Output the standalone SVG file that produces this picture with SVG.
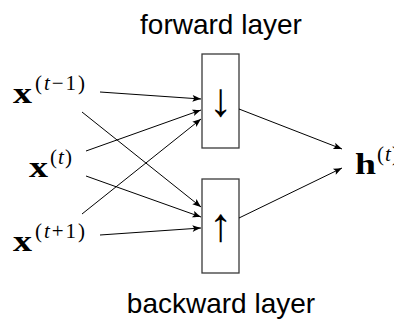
<svg xmlns="http://www.w3.org/2000/svg" width="394" height="322" viewBox="0 0 394 322">
<style>
.lbl{font-family:"Liberation Sans",Arial,sans-serif;font-size:28px;fill:#000}
.bx{font-family:"Liberation Serif","Times New Roman",serif;font-weight:bold;font-size:29px;fill:#000}
.sup{font-family:"Liberation Serif","Times New Roman",serif;font-size:21px;fill:#000}
.it{font-style:italic}
.box{fill:#fff;stroke:#3a3a3a;stroke-width:1.3}
.arr{font-family:"Liberation Serif",serif;font-size:47px;fill:#000}
.edge{stroke:#000;stroke-width:1;fill:none;marker-end:url(#ah)}
</style>
<defs>
<marker id="ah" markerUnits="userSpaceOnUse" markerWidth="12" markerHeight="10" viewBox="-10 -5 12 10" refX="0" refY="0" orient="auto">
<path d="M0,0 C-2.5,-0.9 -5.5,-2.1 -8.5,-3.3 L-6.8,0 L-8.5,3.3 C-5.5,2.1 -2.5,0.9 0,0 Z" fill="#000"/>
</marker>
</defs>
<rect width="394" height="322" fill="#fff"/>
<g id="title-forward"><text class="lbl" x="221" y="34" text-anchor="middle">forward layer</text></g>
<g id="title-backward"><text class="lbl" x="221" y="313" text-anchor="middle">backward layer</text></g>
<g id="x-tm1">
<text class="bx" x="13" y="103" textLength="19" lengthAdjust="spacingAndGlyphs">x</text>
<text class="sup" x="35" y="90" textLength="50" lengthAdjust="spacing">(<tspan class="it">t</tspan>−1)</text>
</g>
<g id="x-t">
<text class="bx" x="29" y="177" textLength="19" lengthAdjust="spacingAndGlyphs">x</text>
<text class="sup" x="50" y="164" textLength="22" lengthAdjust="spacing">(<tspan class="it">t</tspan>)</text>
</g>
<g id="x-tp1">
<text class="bx" x="13" y="251" textLength="19" lengthAdjust="spacingAndGlyphs">x</text>
<text class="sup" x="35" y="238" textLength="50" lengthAdjust="spacing">(<tspan class="it">t</tspan>+1)</text>
</g>
<g id="h-t">
<text class="bx" x="355" y="174" textLength="21" lengthAdjust="spacingAndGlyphs">h</text>
<text class="sup" x="377" y="161" textLength="22" lengthAdjust="spacing">(<tspan class="it">t</tspan>)</text>
</g>
<g id="forward-box">
<rect class="box" x="202" y="54" width="37" height="94"/>
<text class="arr" x="220.5" y="116" text-anchor="middle">↓</text>
</g>
<g id="backward-box">
<rect class="box" x="202" y="179" width="37" height="94"/>
<text class="arr" x="220.5" y="241" text-anchor="middle">↑</text>
</g>
<g id="connectors">
<line class="edge" x1="100" y1="92" x2="201" y2="99"/>
<line class="edge" x1="86" y1="151" x2="201" y2="110"/>
<line class="edge" x1="82" y1="214" x2="201" y2="119"/>
<line class="edge" x1="82" y1="112" x2="201" y2="207"/>
<line class="edge" x1="86" y1="176" x2="201" y2="217"/>
<line class="edge" x1="100" y1="235" x2="201" y2="228"/>
<line class="edge" x1="239" y1="109" x2="342" y2="149"/>
<line class="edge" x1="239" y1="218" x2="342" y2="168"/>
</g>
</svg>
